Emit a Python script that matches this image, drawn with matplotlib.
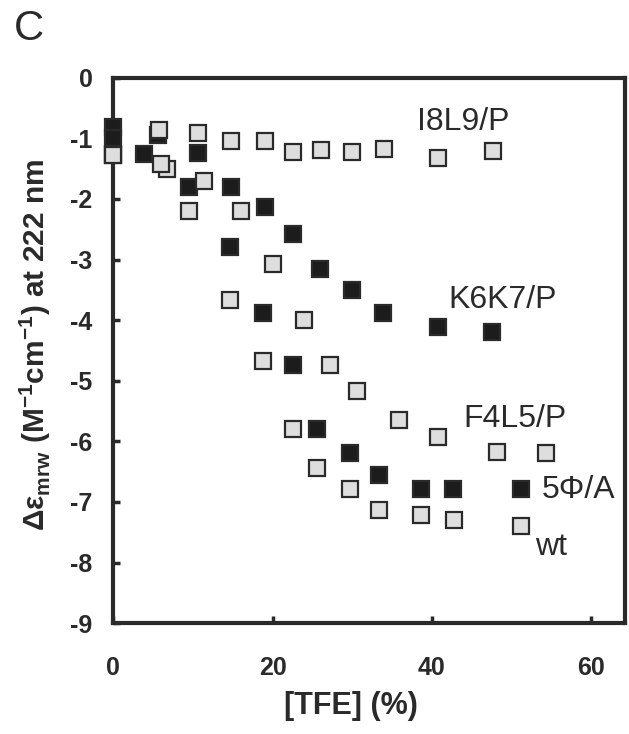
import matplotlib
matplotlib.use("Agg")
import matplotlib.pyplot as plt

# --- data ---
tfe_i8l9 = [0, 5.7, 10.6, 14.75, 19.1, 22.6, 26.1, 30.0, 34.0, 40.8, 47.7]
de_i8l9 = [-1.25, -0.86, -0.91, -1.05, -1.05, -1.22, -1.19, -1.22, -1.17, -1.33, -1.21]

tfe_k6k7 = [0, 5.6, 10.6, 14.75, 19.0, 22.5, 26.0, 30.0, 33.9, 40.8, 47.5]
de_k6k7 = [-0.82, -0.95, -1.24, -1.81, -2.14, -2.58, -3.15, -3.51, -3.88, -4.11, -4.20]

tfe_5phi = [0, 3.8, 9.5, 14.7, 18.8, 22.5, 25.6, 29.7, 33.3, 38.6, 42.7, 51.2]
de_5phi = [-1.0, -1.25, -1.81, -2.79, -3.88, -4.74, -5.79, -6.20, -6.55, -6.78, -6.78, -6.78]

tfe_f4l5 = [0, 6.8, 11.4, 16.0, 20.0, 24.0, 27.25, 30.6, 35.9, 40.7, 48.2, 54.25]
de_f4l5 = [-1.27, -1.50, -1.70, -2.19, -3.07, -3.99, -4.74, -5.17, -5.65, -5.93, -6.18, -6.20]

tfe_wt = [0, 6.0, 9.5, 14.7, 18.8, 22.5, 25.6, 29.7, 33.3, 38.6, 42.75, 51.2]
de_wt = [-1.27, -1.42, -2.19, -3.66, -4.68, -5.79, -6.44, -6.79, -7.13, -7.22, -7.29, -7.40]

series_names = ["K6K7/P", "5\u03a6/A", "I8L9/P", "F4L5/P", "wt"]
xticks = [0, 20, 40, 60]
yticks = [0, -1, -2, -3, -4, -5, -6, -7, -8, -9]

DARK = "#2a2a2a"
BLACKFILL = "#1c1c1c"
LIGHTFILL = "#dedede"

plt.rcParams["font.family"] = ["Liberation Sans", "DejaVu Sans"]

fig = plt.figure(figsize=(6.29, 7.34), dpi=100)
ax = fig.add_axes([0.180, 0.151, 0.814, 0.743])

series = [
    (tfe_k6k7, de_k6k7, BLACKFILL),
    (tfe_5phi, de_5phi, BLACKFILL),
    (tfe_i8l9, de_i8l9, LIGHTFILL),
    (tfe_f4l5, de_f4l5, LIGHTFILL),
    (tfe_wt, de_wt, LIGHTFILL),
]
for i, (x, y, fc) in enumerate(series):
    ax.plot(x, y, linestyle="none", marker="s", markersize=11.2,
            markerfacecolor=fc, markeredgecolor=DARK, markeredgewidth=1.6,
            clip_on=False, zorder=5 + i)

ax.set_xlim(0, 64.25)
ax.set_ylim(-9, 0)
ax.set_xticks(xticks)
ax.set_yticks(yticks)
ax.set_xticklabels([str(t) for t in xticks])
ax.set_yticklabels([str(t) for t in yticks])

for sp in ax.spines.values():
    sp.set_linewidth(3.0)
    sp.set_color(DARK)
    sp.set_zorder(3)

ax.tick_params(axis="both", direction="in", length=5, width=2.5, color=DARK,
               labelsize=18, labelcolor=DARK)
ax.tick_params(axis="x", pad=24)
ax.tick_params(axis="y", pad=15)
for lab in ax.get_xticklabels() + ax.get_yticklabels():
    lab.set_fontweight("bold")

ax.set_xlabel("[TFE] (%)", fontsize=22, fontweight="bold", color=DARK, va="center")
ax.xaxis.set_label_coords(0.464, -0.152)
ax.set_ylabel("\u0394\u03b5$_{\\mathregular{mrw}}$ (M$^{\\mathregular{-1}}$cm$^{\\mathregular{-1}}$) at 222 nm",
              fontsize=21.5, fontweight="bold", color=DARK, va="center")
ax.yaxis.set_label_coords(-0.152, 0.51)

# series labels
label_pos = [(42.0, -3.67), (53.75, -6.80), (38.1, -0.73), (43.9, -5.63), (52.9, -7.75)]
for name, (lx, ly) in zip(series_names, label_pos):
    ax.text(lx, ly, name, fontsize=23, color=DARK, ha="left", va="center", zorder=10)

fig.text(0.022, 0.960, "C", fontsize=30, color=DARK, ha="left", va="center")

fig.savefig("out.png", dpi=100)
